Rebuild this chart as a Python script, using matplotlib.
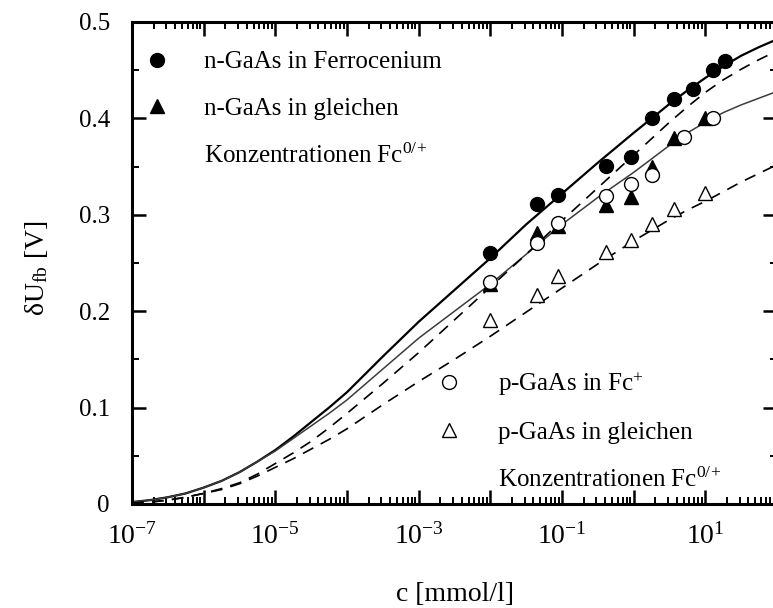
import matplotlib
matplotlib.use('Agg')
import matplotlib.pyplot as plt
from matplotlib.ticker import LogLocator, MultipleLocator, FuncFormatter, NullFormatter
from matplotlib.lines import Line2D
import numpy as np

plt.rcParams['font.family'] = ['Liberation Serif', 'DejaVu Serif']
plt.rcParams['mathtext.fontset'] = 'custom'
plt.rcParams['mathtext.rm'] = 'Liberation Serif'
plt.rcParams['mathtext.it'] = 'Liberation Serif:italic'
plt.rcParams['mathtext.bf'] = 'Liberation Serif:bold'

# ---------------- data ----------------
# n-GaAs in Ferrocenium (filled circles)
c_n_fc = [0.01, 0.045, 0.087, 0.41, 0.93, 1.8, 3.6, 6.8, 13, 18.6]
u_n_fc = [0.26, 0.311, 0.321, 0.351, 0.36, 0.40, 0.42, 0.43, 0.45, 0.46]
# n-GaAs in gleichen Konzentrationen Fc0/+ (filled triangles)
c_n_eq = [0.01, 0.045, 0.087, 0.41, 0.93, 1.8, 3.6, 10]
u_n_eq = [0.228, 0.281, 0.288, 0.31, 0.318, 0.35, 0.38, 0.40]
# p-GaAs in Fc+ (open circles)
c_p_fc = [0.01, 0.045, 0.087, 0.41, 0.93, 1.8, 5.0, 13]
u_p_fc = [0.23, 0.271, 0.291, 0.32, 0.332, 0.341, 0.381, 0.40]
# p-GaAs in gleichen Konzentrationen Fc0/+ (open triangles)
c_p_eq = [0.01, 0.045, 0.087, 0.41, 0.93, 1.8, 3.6, 10]
u_p_eq = [0.191, 0.217, 0.236, 0.261, 0.274, 0.29, 0.306, 0.323]

# fitted curves, values
fit_c = [1e-7, 1.78e-7, 3.16e-7, 5.62e-7, 1e-6, 1.78e-6, 3.16e-6, 5.62e-6,
         1e-5, 1.78e-5, 3.16e-5, 5.62e-5, 1e-4, 3.16e-4, 1e-3, 3.16e-3,
         1e-2, 3.16e-2, 1e-1, 3.16e-1, 1.0, 1.78, 3.16, 5.62, 10.0, 17.8,
         31.6, 56.2, 100.0]
fit_n_fc = [0.002, 0.004, 0.007, 0.011, 0.017, 0.024, 0.033, 0.044,
            0.056, 0.070, 0.085, 0.100, 0.116, 0.153, 0.189, 0.222,
            0.255, 0.290, 0.322, 0.354, 0.385, 0.400, 0.415, 0.429,
            0.442, 0.454, 0.465, 0.474, 0.482]
fit_p_fc = [0.002, 0.004, 0.007, 0.011, 0.017, 0.024, 0.033, 0.044,
            0.055, 0.068, 0.081, 0.094, 0.108, 0.140, 0.172, 0.200,
            0.228, 0.259, 0.290, 0.318, 0.344, 0.358, 0.372, 0.385,
            0.396, 0.406, 0.414, 0.421, 0.428]
fit_n_eq = [0.001, 0.002, 0.004, 0.007, 0.011, 0.016, 0.022, 0.031,
            0.042, 0.053, 0.065, 0.079, 0.094, 0.125, 0.157, 0.191,
            0.225, 0.259, 0.294, 0.328, 0.362, 0.379, 0.396, 0.412,
            0.427, 0.440, 0.451, 0.461, 0.470]
fit_p_eq = [0.001, 0.002, 0.004, 0.007, 0.011, 0.015, 0.021, 0.029,
            0.038, 0.047, 0.057, 0.067, 0.078, 0.103, 0.127, 0.150,
            0.174, 0.199, 0.224, 0.249, 0.273, 0.284, 0.295, 0.305,
            0.314, 0.324, 0.334, 0.343, 0.352]

x_range = [1e-7, 1e2]
y_range = [0, 0.5]
y_ticks_major = [0, 0.1, 0.2, 0.3, 0.4, 0.5]
x_labelled_exponents = [-7, -5, -3, -1, 1]

labels = ['n-GaAs in Ferrocenium', 'n-GaAs in gleichen',
          'Konzentrationen Fc$^{0/\\!+}$',
          'p-GaAs in Fc$^{+}$', 'p-GaAs in gleichen',
          'Konzentrationen Fc$^{0/\\!+}$']

# ---------------- figure ----------------
W, H = 773, 608
fig = plt.figure(figsize=(W / 100, H / 100), dpi=100)
ax = fig.add_axes([132 / W, 1 - 504 / H, (777 - 132) / W, (504 - 22) / H])

dash = (0, (7, 5))
ax.plot(fit_c, fit_n_fc, color='black', lw=1.6, zorder=2)
ax.plot(fit_c, fit_p_fc, color='#3c3c3c', lw=1.1, zorder=2)
ax.plot(fit_c, fit_n_eq, color='black', lw=1.2, ls=dash, zorder=2)
ax.plot(fit_c, fit_p_eq, color='black', lw=1.2, ls=dash, zorder=2)

ms = 10
ax.plot(c_n_fc, u_n_fc, 'o', ms=ms, mfc='black', mec='black', zorder=3)
ax.plot(c_n_eq, u_n_eq, '^', ms=ms, mfc='black', mec='black', zorder=4)
ax.plot(c_p_fc, u_p_fc, 'o', ms=ms, mfc='white', mec='black', mew=1.0, zorder=5)
ax.plot(c_p_eq, u_p_eq, '^', ms=ms, mfc='white', mec='black', mew=1.0, zorder=6)

ax.set_xscale('log')
ax.set_xlim(*x_range)
ax.set_ylim(*y_range)

ax.xaxis.set_major_locator(LogLocator(base=10, numticks=30))
ax.xaxis.set_minor_locator(LogLocator(base=10, subs=np.arange(2, 10), numticks=30))
ax.xaxis.set_minor_formatter(NullFormatter())


def xfmt(v, pos):
    e = int(round(np.log10(v)))
    if e in x_labelled_exponents:
        return '$\\mathregular{10^{%d}}$' % e
    return ''


ax.xaxis.set_major_formatter(FuncFormatter(xfmt))
ax.set_yticks(y_ticks_major)
ax.yaxis.set_minor_locator(MultipleLocator(0.05))
ax.yaxis.set_major_formatter(FuncFormatter(lambda v, p: '0' if abs(v) < 1e-9 else '%.1f' % v))

ax.tick_params(which='major', direction='in', length=10, width=1.8,
               top=True, right=True)
ax.tick_params(which='minor', direction='in', length=5, width=1.4,
               top=True, right=True)
ax.tick_params(axis='y', labelsize=18, pad=16)
ax.tick_params(axis='x', labelsize=20, pad=14)
for s in ax.spines.values():
    s.set_linewidth(2.2)

ax.set_xlabel('c [mmol/l]', fontsize=20, labelpad=23)
ax.set_ylabel('\u03b4U$_{\\mathregular{fb}}$ [V]', fontsize=20)
ax.yaxis.set_label_coords(-0.127, 0.49)

# legends
fs = 18
h1 = [Line2D([], [], ls='none', marker='o', ms=ms, mfc='black', mec='black'),
      Line2D([], [], ls='none', marker='^', ms=ms, mfc='black', mec='black'),
      Line2D([], [], ls='none', marker=None)]
leg1 = ax.legend(h1, labels[:3], loc='upper left', bbox_to_anchor=(0.0194, 0.940),
                 frameon=False, fontsize=fs, handlelength=1.0, handletextpad=1.38,
                 labelspacing=0.95, borderpad=0, borderaxespad=0)
ax.add_artist(leg1)
h2 = [Line2D([], [], ls='none', marker='o', ms=ms, mfc='white', mec='black', mew=1.0),
      Line2D([], [], ls='none', marker='^', ms=ms, mfc='white', mec='black', mew=1.0),
      Line2D([], [], ls='none', marker=None)]
leg2 = ax.legend(h2, labels[3:], loc='upper left', bbox_to_anchor=(0.472, 0.278),
                 frameon=False, fontsize=fs, handlelength=1.0, handletextpad=1.46,
                 labelspacing=0.95, borderpad=0, borderaxespad=0)

fig.savefig('out.png', dpi=100)
